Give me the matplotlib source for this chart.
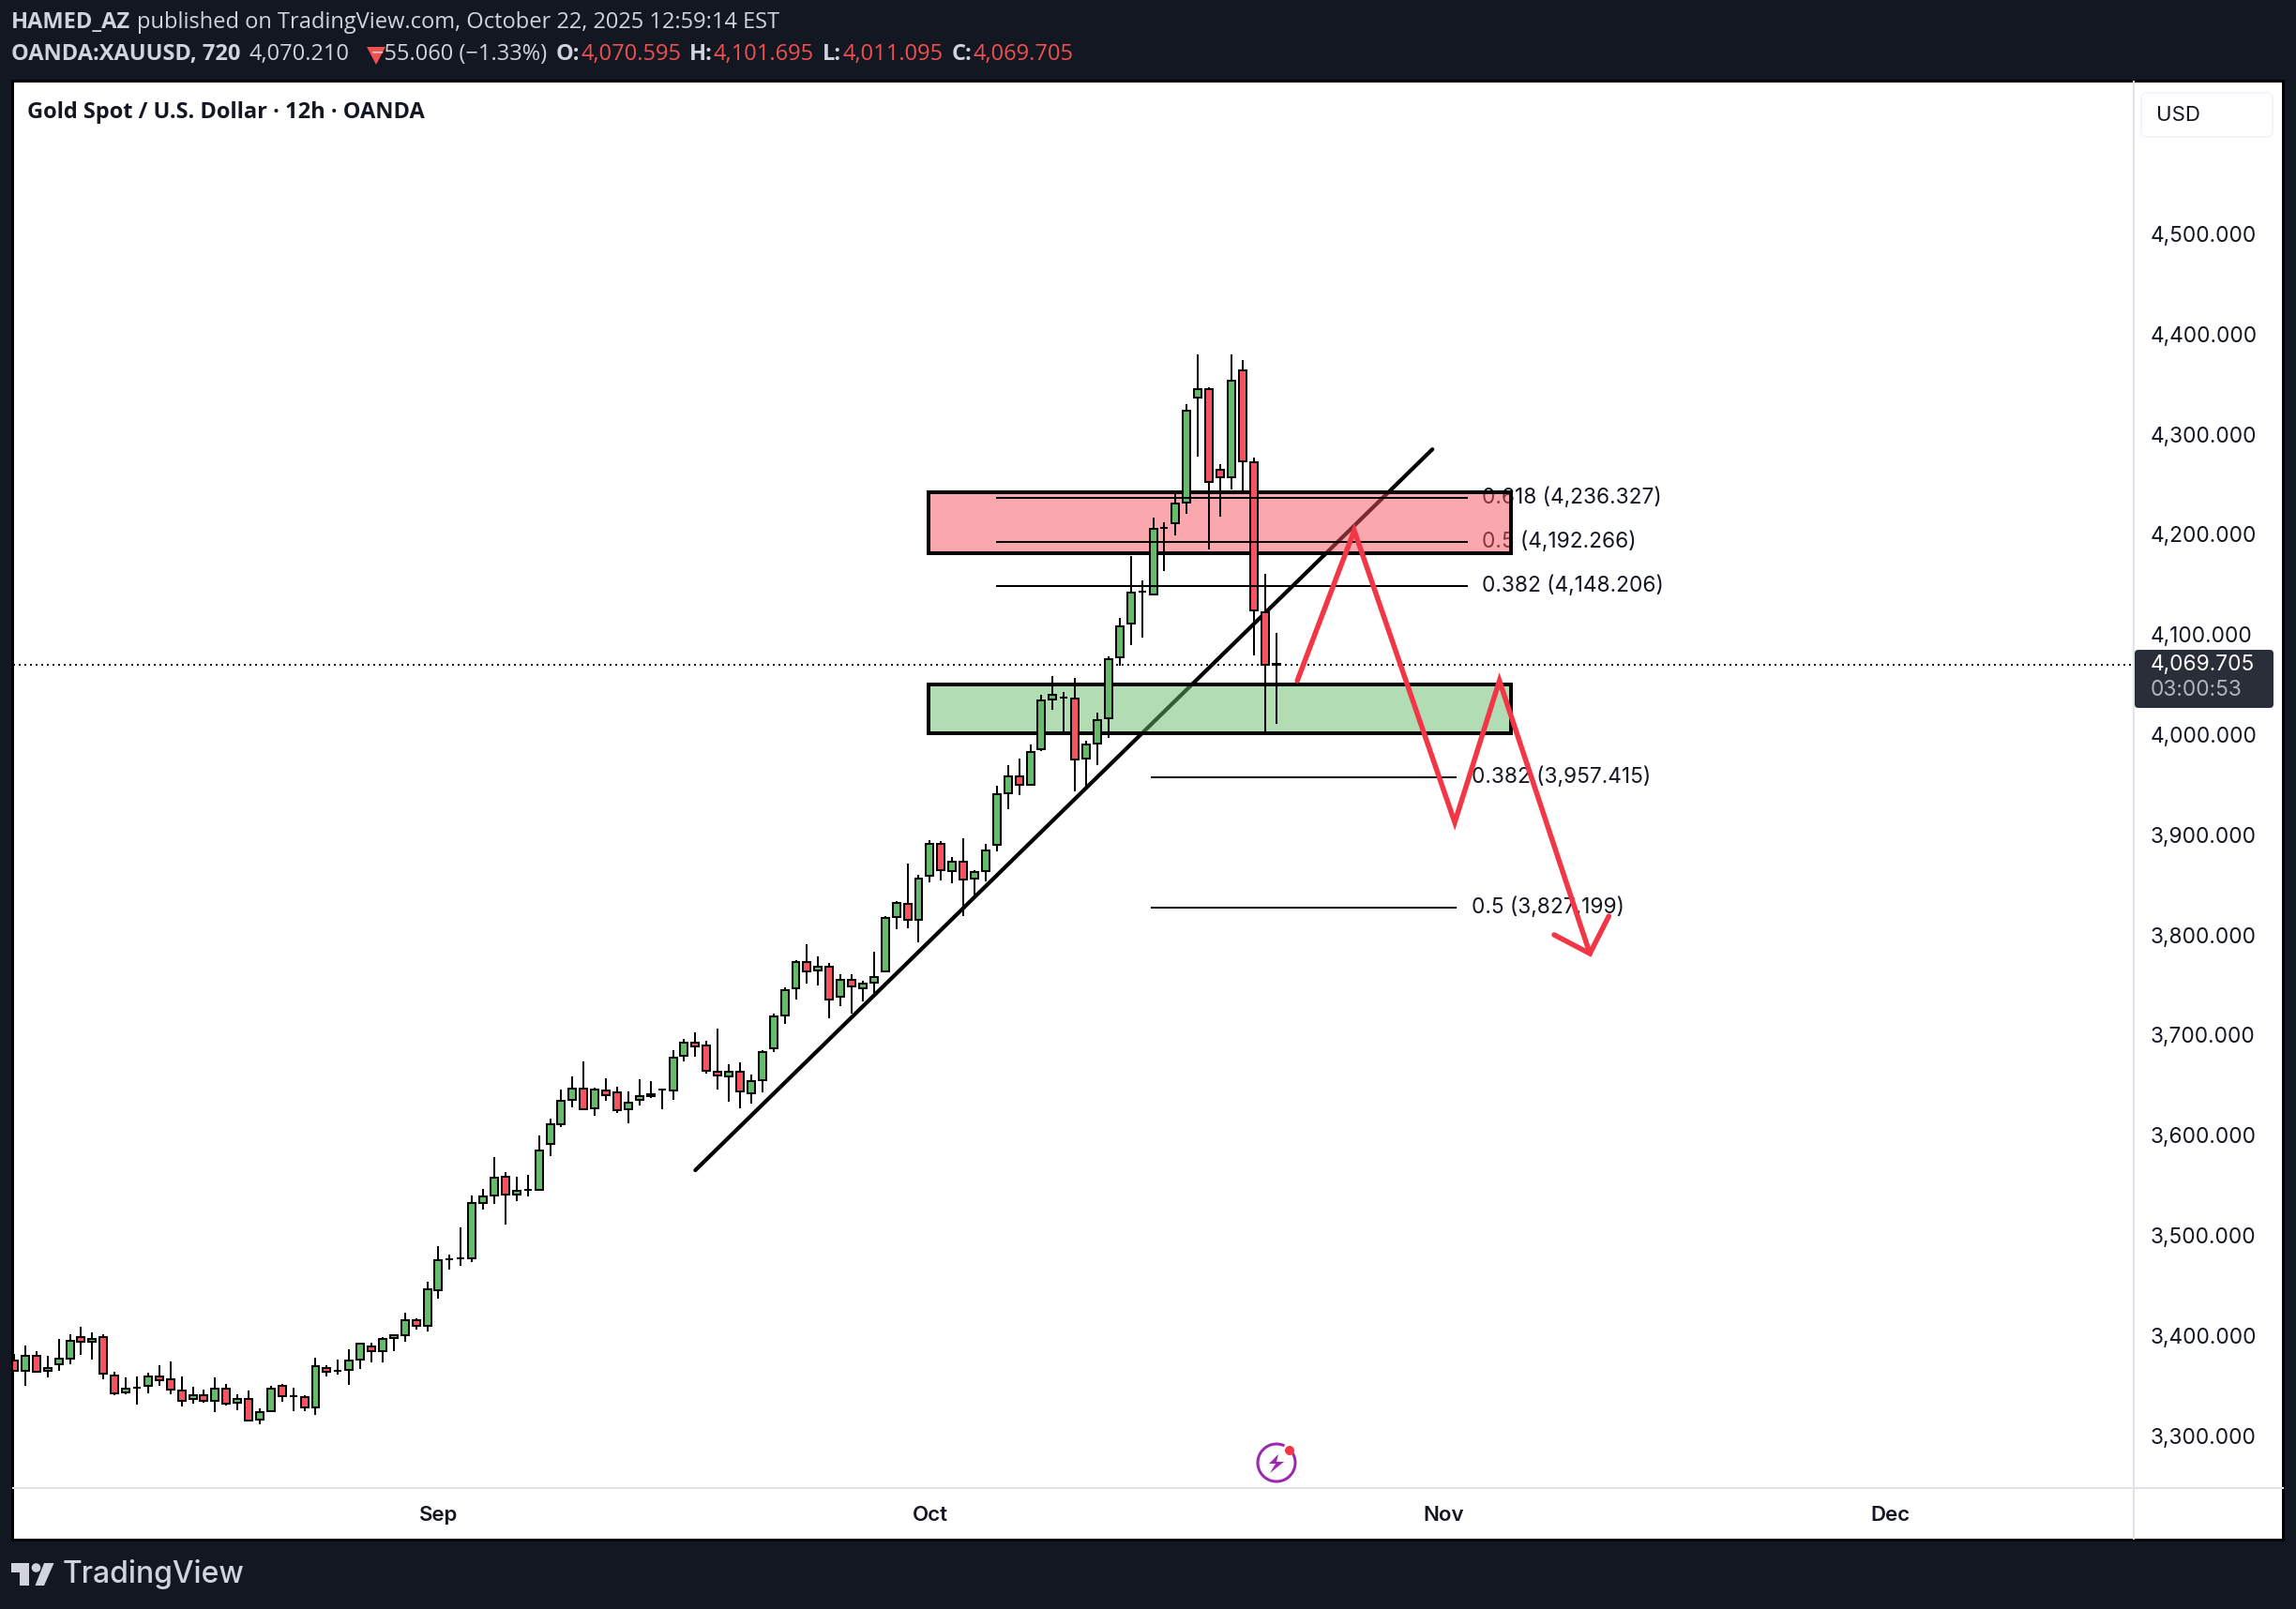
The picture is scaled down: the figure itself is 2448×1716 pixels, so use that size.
import matplotlib
matplotlib.use('Agg')
import matplotlib.pyplot as plt
from matplotlib.patches import Rectangle, FancyBboxPatch, Polygon, Circle, Arc

# candles
opens = [3375.3, 3365.0, 3380.0, 3364.4, 3371.6, 3377.2, 3398.7, 3393.4, 3398.7, 3360.3,
         3342.9, 3348.2, 3349.4, 3359.4, 3356.6, 3345.4, 3336.3, 3340.7, 3334.4, 3347.2,
         3332.6, 3336.9, 3315.7, 3324.1, 3350.0, 3339.7, 3338.8, 3327.9, 3367.8, 3364.7,
         3365.3, 3375.6, 3389.4, 3384.1, 3397.8, 3400.0, 3415.6, 3409.3, 3445.0, 3476.4,
         3477.0, 3476.8, 3532.4, 3539.9, 3558.9, 3540.8, 3545.8, 3545.2, 3591.0, 3610.7,
         3635.0, 3646.9, 3626.6, 3645.0, 3643.2, 3625.7, 3635.0, 3639.4, 3645.3, 3644.4,
         3679.4, 3692.8, 3690.0, 3663.8, 3658.4, 3663.8, 3641.6, 3654.7, 3686.4, 3719.5,
         3746.7, 3773.2, 3764.2, 3768.5, 3738.3, 3755.4, 3746.7, 3752.3, 3763.5, 3817.5,
         3831.3, 3815.0, 3858.7, 3891.2, 3863.4, 3873.4, 3855.9, 3863.4, 3889.6, 3941.2,
         3958.7, 3949.6, 3985.2, 4034.8, 4037.0, 4036.4, 3976.2, 3990.8, 4016.1, 4077.0,
         4110.9, 4142.8, 4140.0, 4206.7, 4210.8, 4231.7, 4336.6, 4345.3, 4264.5, 4257.0,
         4364.0, 4272.3, 4122.2, 4070.595]
highs = [3381.6, 3390.0, 3384.4, 3379.7, 3396.6, 3401.2, 3408.7, 3403.1, 3401.2, 3363.5,
         3358.2, 3359.1, 3362.8, 3370.3, 3374.1, 3359.1, 3348.8, 3346.0, 3358.2, 3351.6,
         3341.3, 3345.0, 3327.3, 3349.7, 3351.6, 3347.9, 3340.4, 3377.8, 3370.3, 3376.0,
         3386.2, 3392.2, 3392.8, 3398.4, 3400.3, 3422.8, 3417.2, 3453.7, 3489.2, 3480.8,
         3508.0, 3539.5, 3546.4, 3578.2, 3563.3, 3558.6, 3560.4, 3599.8, 3616.6, 3645.6,
         3658.8, 3673.7, 3647.5, 3656.9, 3648.5, 3643.8, 3656.0, 3654.1, 3646.6, 3685.0,
         3696.2, 3702.8, 3694.3, 3706.0, 3670.9, 3672.8, 3660.6, 3685.0, 3721.1, 3747.6,
         3774.5, 3790.7, 3778.5, 3772.0, 3760.7, 3760.7, 3754.2, 3783.2, 3818.5, 3833.4,
         3871.2, 3860.0, 3894.6, 3893.4, 3877.8, 3896.5, 3864.3, 3890.9, 3949.0, 3969.6,
         3976.2, 3990.2, 4039.8, 4058.6, 4042.6, 4056.7, 3993.9, 4022.0, 4077.9, 4116.6,
         4178.3, 4154.0, 4216.7, 4212.0, 4240.4, 4330.0, 4379.6, 4346.6, 4270.1, 4379.6,
         4374.0, 4276.7, 4160.6, 4101.695]
lows = [3365.0, 3350.0, 3364.0, 3358.5, 3365.0, 3371.6, 3381.0, 3376.3, 3356.6, 3340.7,
        3341.6, 3331.3, 3342.6, 3350.0, 3341.6, 3329.4, 3332.3, 3333.2, 3323.8, 3330.4,
        3325.7, 3314.8, 3311.7, 3324.1, 3334.1, 3324.8, 3324.8, 3321.0, 3359.4, 3361.3,
        3351.0, 3366.9, 3373.5, 3373.5, 3384.7, 3394.0, 3406.2, 3404.4, 3437.1, 3466.2,
        3469.9, 3473.7, 3526.1, 3531.7, 3511.1, 3534.5, 3539.2, 3545.2, 3579.5, 3608.5,
        3628.2, 3625.7, 3619.7, 3634.7, 3622.6, 3612.3, 3630.0, 3637.5, 3626.3, 3635.7,
        3674.0, 3678.7, 3661.9, 3646.0, 3633.8, 3627.2, 3631.9, 3643.2, 3683.3, 3711.4,
        3735.8, 3751.7, 3749.8, 3717.0, 3729.2, 3721.7, 3733.9, 3742.3, 3763.5, 3806.0,
        3806.9, 3792.9, 3852.8, 3854.7, 3851.9, 3819.1, 3837.2, 3853.7, 3883.7, 3925.9,
        3940.0, 3949.6, 3983.7, 4025.2, 4003.3, 3943.7, 3947.1, 3969.9, 3997.1, 4068.9,
        4089.7, 4097.2, 4140.0, 4163.7, 4199.2, 4220.8, 4277.9, 4185.2, 4218.0, 4244.8,
        4243.6, 4079.4, 4003.3, 4011.095]
closes = [3365.0, 3380.0, 3364.0, 3367.8, 3377.2, 3395.0, 3393.4, 3396.8, 3361.6, 3341.9,
          3347.2, 3348.2, 3359.4, 3355.0, 3345.7, 3334.4, 3340.7, 3334.4, 3347.2, 3331.6,
          3336.9, 3314.8, 3323.8, 3347.2, 3339.1, 3339.7, 3327.9, 3369.7, 3363.5, 3364.7,
          3375.3, 3392.2, 3384.1, 3396.8, 3400.0, 3415.6, 3409.3, 3446.5, 3475.5, 3476.4,
          3477.0, 3532.7, 3539.2, 3557.9, 3540.8, 3544.8, 3545.8, 3585.1, 3610.7, 3634.7,
          3646.9, 3625.7, 3645.3, 3639.7, 3624.7, 3632.9, 3639.4, 3641.3, 3645.3, 3677.8,
          3692.5, 3688.4, 3664.1, 3659.4, 3663.8, 3643.5, 3654.4, 3683.4, 3718.9, 3745.1,
          3773.2, 3763.5, 3768.5, 3735.4, 3755.4, 3748.6, 3751.7, 3758.2, 3817.2, 3832.2,
          3815.0, 3856.5, 3891.2, 3864.3, 3873.4, 3855.3, 3863.1, 3884.6, 3940.9, 3958.7,
          3949.6, 3983.0, 4034.5, 4040.1, 4037.0, 3974.9, 3990.5, 4014.9, 4075.7, 4108.5,
          4142.1, 4142.8, 4205.8, 4206.7, 4231.1, 4323.8, 4345.3, 4252.3, 4257.0, 4353.7,
          4272.9, 4124.0, 4069.7, 4069.705]

month_idx = [38, 82, 128, 168]
month_labels = ['Sep', 'Oct', 'Nov', 'Dec']
price_ticks = [3300, 3400, 3500, 3600, 3700, 3800, 3900, 4000, 4100, 4200, 4300, 4400, 4500]
last_price = 4069.705

# drawings on the chart
fib_upper = [4236.327, 4192.266, 4148.206]
fib_upper_names = ['0.618', '0.5', '0.382']
fib_lower = [3957.415, 3827.199]
fib_lower_names = ['0.382', '0.5']
trend_x = [61.0, 127.0]
trend_y = [3565, 4285]
zig_x = [114.9, 120.0, 129.0, 133.0, 141.1]
zig_y = [4053.8, 4203.8, 3912.4, 4053.8, 3781.4]
head_x = [137.9, 141.1, 142.8]
head_y = [3800.1, 3781.4, 3818.8]

W, H = 2448, 1716
BG = '#131722'
TXT = '#131722'
GREEN = '#66BB6A'
RED = '#F7525F'
SEP = '#E0E3EB'
FONT = 'Inter'
px = 0.72  # points per pixel at dpi 100

fig = plt.figure(figsize=(W / 100, H / 100), dpi=100, facecolor=BG)

# white panel behind everything
back = fig.add_axes([0, 0, 1, 1], zorder=0)
back.set_xlim(0, W)
back.set_ylim(H, 0)
back.axis('off')
back.add_patch(Rectangle((13, 86), 2421, 1556, fc='white', ec='black', lw=3 * px))

# chart axes, 14..2275 by 87..1587 px
ax = fig.add_axes([14 / W, 1 - 1587 / H, (2275 - 14) / W, (1587 - 87) / H], zorder=1)
ax.patch.set_alpha(0)
ax.set_xlim(-0.084, 189.8)
ax.set_ylim(3247.6, 4652.2)
for s in ax.spines.values():
    s.set_visible(False)

xs = list(range(len(opens)))
colors = [GREEN if c >= o else RED for o, c in zip(opens, closes)]
bottoms = [min(o, c) for o, c in zip(opens, closes)]
heights = [abs(c - o) for o, c in zip(opens, closes)]

ax.plot(trend_x, trend_y, color='black', lw=4.2 * px, solid_capstyle='round', zorder=1)

# fib labels sit under the boxes
for p, n in zip(fib_upper, fib_upper_names):
    ax.text(131.4, p, f'{n} ({p:,.3f})', fontsize=16.3, family=FONT, color=TXT, va='center', zorder=1.5)
for p, n in zip(fib_lower, fib_lower_names):
    ax.text(130.5, p, f'{n} ({p:,.3f})', fontsize=16.3, family=FONT, color=TXT, va='center', zorder=1.5)

ax.add_patch(Rectangle((81.9, 4181.2), 52.1, 60.8, fc=RED, alpha=0.5, ec='none', zorder=2))
ax.add_patch(Rectangle((81.9, 4001.7), 52.1, 48.7, fc=GREEN, alpha=0.5, ec='none', zorder=2))
ax.add_patch(Rectangle((81.9, 4181.2), 52.1, 60.8, fc='none', ec='black', lw=4 * px, zorder=2.1))
ax.add_patch(Rectangle((81.9, 4001.7), 52.1, 48.7, fc='none', ec='black', lw=4 * px, zorder=2.1))

ax.axhline(last_price, color='#131722', lw=2 * px, ls=(0, (1, 2)), zorder=2.5)

ax.vlines(xs, lows, highs, color='black', lw=2 * px, zorder=3)
ax.bar(xs, heights, bottom=bottoms, width=0.67, color=colors, edgecolor='black', linewidth=2 * px, zorder=3.1)

for p in fib_upper:
    ax.plot([88, 130.1], [p, p], color='black', lw=2 * px, zorder=4)
for p in fib_lower:
    ax.plot([101.9, 129.1], [p, p], color='black', lw=2 * px, zorder=4)

ax.plot(zig_x, zig_y, color='#F23645', lw=5.5 * px, solid_capstyle='round', solid_joinstyle='miter', zorder=5)
ax.plot(head_x, head_y, color='#F23645', lw=5.5 * px, solid_capstyle='round', solid_joinstyle='miter', zorder=5)

ax.yaxis.tick_right()
ax.set_yticks(price_ticks)
ax.set_yticklabels([f'{p:,.3f}' for p in price_ticks], fontsize=16.3, family=FONT, color=TXT)
ax.tick_params(axis='y', length=0, pad=13)
ax.set_xticks(month_idx)
ax.set_xticklabels(month_labels, fontsize=16, family=FONT, fontweight='semibold', color=TXT)
ax.tick_params(axis='x', length=0, pad=14)

# page furniture in pixel coords
top = fig.add_axes([0, 0, 1, 1], zorder=2)
top.patch.set_alpha(0)
top.set_xlim(0, W)
top.set_ylim(H, 0)
top.axis('off')

top.plot([14, 2434], [1587, 1587], color=SEP, lw=2 * px)
top.plot([2275, 2275], [87, 1641], color=SEP, lw=2 * px)

top.add_patch(FancyBboxPatch((2283, 99), 140, 47, boxstyle='round,pad=0,rounding_size=6', fc='white', ec='#F0F3FA', lw=1.5 * px))
top.text(2299, 123, 'USD', fontsize=16, family=FONT, color=TXT, va='center')

top.add_patch(FancyBboxPatch((2276, 693), 148, 62, boxstyle='round,pad=0,rounding_size=4', fc='#2A2E39', ec='none'))
top.text(2293, 709, f'{last_price:,.3f}', fontsize=16.3, family=FONT, color='white', va='center')
top.text(2293, 736, '03:00:53', fontsize=16.3, family=FONT, color='#B2B5BE', va='center')

top.text(29, 120, 'Gold Spot / U.S. Dollar · 12h · OANDA', fontsize=17, family='Open Sans', fontweight='bold', color=TXT, va='center')


def chain(x, y, parts):
    # lay text pieces one after the other
    r = fig.canvas.get_renderer()
    for s, col, bold, gap in parts:
        t = top.text(x, y, s, fontsize=17, family='Open Sans', color=col,
                     fontweight='bold' if bold else 'normal', va='center')
        x = top.transData.inverted().transform(t.get_window_extent(r))[1][0] + gap


HEAD = '#D1D4DC'
SELL = '#F0504F'
chain(12, 24, [('HAMED_AZ', HEAD, True, 7),
               ('published on TradingView.com, October 22, 2025 12:59:14 EST', HEAD, False, 0)])
chain(12, 58, [('OANDA:XAUUSD, 720', HEAD, True, 9),
               ('4,070.210', HEAD, False, 24),
               ('−55.060 (−1.33%)', HEAD, False, 9),
               ('O:', HEAD, True, 1), ('4,070.595', SELL, False, 9),
               ('H:', HEAD, True, 1), ('4,101.695', SELL, False, 9),
               ('L:', HEAD, True, 1), ('4,011.095', SELL, False, 9),
               ('C:', HEAD, True, 1), ('4,069.705', SELL, False, 0)])
top.add_patch(Polygon([(391, 50), (411, 50), (401, 69)], fc=SELL, ec='none'))

# lightning badge
top.add_patch(Arc((1361, 1560), 40, 40, theta1=-30, theta2=295, color='#9C27B0', lw=3 * px))
top.add_patch(Circle((1375, 1547), 5, fc='#F23645', ec='none'))
top.add_patch(Polygon([(1363, 1551), (1353, 1561), (1360, 1561), (1354, 1571), (1369, 1559), (1361, 1559)],
                      fc='#9C27B0', ec='none'))

# TradingView logo
LOGO = '#D1D4DC'
top.add_patch(Polygon([(12, 1667), (31, 1667), (31, 1691), (21, 1691), (21, 1677), (12, 1677)], fc=LOGO, ec='none'))
top.add_patch(Circle((38.5, 1672), 4.8, fc=LOGO, ec='none'))
top.add_patch(Polygon([(47, 1667), (57.5, 1667), (47, 1691), (37.5, 1691)], fc=LOGO, ec='none'))
top.text(67, 1679, 'TradingView', fontsize=23, family=FONT, fontweight='medium', color=LOGO, va='center')

fig.savefig('out.png', dpi=100, facecolor=BG)
